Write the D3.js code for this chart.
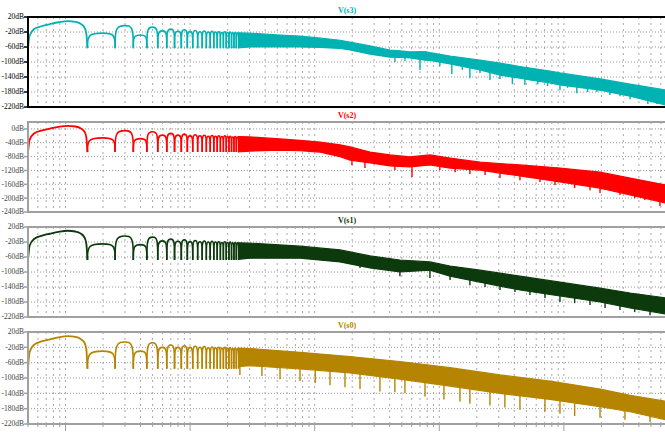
<!DOCTYPE html>
<html>
<head>
<meta charset="utf-8">
<script src="https://cdn.jsdelivr.net/npm/d3@7"></script>
<style>
  body { margin: 0; background: #fff; }
  svg text { font-family: "Liberation Serif", "DejaVu Serif", serif; }
</style>
</head>
<body>
<div id="chart"></div>
<script>
// trace names, top to bottom
const traceNames = ['V(s3)', 'V(s2)', 'V(s1)', 'V(s0)'];

// y tick labels (dB)
const ticksA = [20, -20, -60, -100, -140, -180, -220];
const ticksB = [0, -40, -80, -120, -160, -200, -240];

// side lobes of the low frequency part: nulls and lobe centres
const lobeNulls = [15, 25, 35, 45, 55, 65, 75, 85, 95, 105, 115, 125, 135, 145, 155, 165, 175, 185, 195, 205, 215, 225, 235, 245];
const lobeFreqs = [20, 30, 40, 50, 60, 70, 80, 90, 100, 110, 120, 130, 140, 150, 160, 170, 180, 190, 200, 210, 220, 230, 240];

// main lobe [freq, dB]
const s3Main = [[5, -63], [5.15, -30], [5.6, -12], [6.5, -4], [7.5, 1], [8.8, 6], [10.4, 9], [12, 7], [13.2, 2], [14.2, -8], [14.7, -25], [15, -63]];
const s2Main = [[5, -67], [5.15, -32], [5.6, -13], [6.5, -4], [7.5, 1], [8.8, 6], [10.4, 9], [12, 7], [13.2, 2], [14.2, -8], [14.7, -25], [15, -67]];
const s1Main = [[5, -68], [5.15, -30], [5.6, -12], [6.5, -3], [7.5, 2], [8.8, 7], [10.4, 10], [12, 8], [13.2, 3], [14.2, -8], [14.7, -25], [15, -68]];
const s0Main = [[5, -76], [5.15, -32], [5.6, -13], [6.5, -4], [7.5, 1], [8.8, 6], [10.4, 9], [12, 7], [13.2, 2], [14.2, -8], [14.7, -25], [15, -76]];

// side lobe peaks (dB) at lobeFreqs, and null depth
const s3Peaks = [-23, -3, -28, -7, -17, -12, -18, -14, -19, -16, -19, -17, -20, -18, -20, -19, -21, -19, -21, -20, -22, -21, -22];
const s2Peaks = [-26, -5, -28, -8, -18, -13, -18, -15, -20, -17, -20, -18, -21, -19, -21, -20, -22, -20, -22, -21, -23, -22, -23];
const s1Peaks = [-25, -4, -27, -7, -17, -12, -18, -14, -19, -16, -19, -17, -20, -18, -20, -19, -21, -19, -21, -20, -22, -21, -22];
const s0Peaks = [-30, -6, -30, -8, -20, -14, -20, -16, -20, -17, -20, -18, -21, -19, -21, -20, -22, -20, -22, -21, -23, -22, -23];
const nullDepth = [-63, -67, -68, -76];

// dense part of the spectrum: [freq, upper dB, lower dB]
const s3Band = [[245, -22, -62], [302, -23, -60], [526, -28, -60], [762, -31, -60], [1104, -36, -61],
  [1597, -42, -64], [1920, -47, -68], [2780, -57, -79], [4020, -68, -87], [4830, -70, -88], [5820, -73, -89],
  [7680, -72, -95], [8410, -75, -96], [12200, -84, -105], [21200, -95, -121], [30700, -103, -135], [44400, -112, -143],
  [53400, -116, -148], [77300, -124, -156], [93000, -129, -161], [195000, -145, -175], [340000, -159, -191], [660000, -175, -215]];
const s2Band = [[245, -22, -66], [302, -23, -64], [526, -29, -61], [762, -33, -63], [1104, -38, -67],
  [1597, -46, -80], [1920, -52, -90], [2780, -67, -98], [4020, -75, -107], [5820, -81, -110], [8410, -75, -104],
  [12200, -84, -113], [21200, -96, -119], [44400, -104, -136], [93000, -113, -153], [195000, -125, -171],
  [340000, -142, -191], [660000, -162, -214]];
const s1Band = [[245, -22, -66], [302, -23, -63], [762, -31, -63], [1597, -41, -73], [2780, -57, -89],
  [4830, -68, -100], [8410, -73, -95], [12200, -84, -111], [21200, -95, -127], [44400, -111, -148],
  [93000, -127, -164], [195000, -143, -180], [340000, -156, -196], [660000, -169, -212]];
const s0Band = [[245, -22, -70], [302, -23, -68], [762, -33, -76], [1920, -44, -87], [4830, -57, -103],
  [12200, -73, -121], [30700, -92, -140], [77300, -108, -156], [195000, -129, -175], [340000, -145, -188], [660000, -161, -209]];

// downward spikes under the band [freq, dB]
const s3Spikes = [[4400, -100], [5300, -97], [7000, -121], [10100, -111], [12600, -132], [15300, -121], [17600, -143],
  [21200, -129], [25500, -148], [30700, -145], [38600, -159], [48600, -161], [61800, -159], [74000, -164], [93000, -175],
  [107000, -169], [127000, -183], [155000, -180], [184000, -180], [234000, -188], [282000, -191], [340000, -199],
  [385000, -193], [472000, -212], [557000, -212]];
const s2Spikes = [[1990, -104], [2530, -113], [4400, -119], [6040, -139], [10100, -119], [13400, -125], [17600, -130],
  [23300, -133], [30700, -142], [44400, -148], [64300, -153], [84800, -162], [122000, -171], [162000, -177],
  [195000, -185], [282000, -191], [370000, -200], [447000, -205], [590000, -223]];
const s1Spikes = [[2310, -89], [4830, -111], [8410, -116], [12200, -121], [17600, -135], [23300, -140], [30700, -148],
  [40500, -153], [53400, -161], [70500, -169], [93000, -180], [122000, -183], [162000, -188], [214000, -196],
  [282000, -201], [370000, -207], [491000, -215]];
const s0Spikes = [[251, -92], [377, -95], [527, -103], [762, -108], [1010, -113], [1327, -119], [1750, -124], [2310, -129],
  [3340, -135], [4400, -137], [5300, -140], [7680, -148], [10900, -156], [14650, -161], [17600, -167], [25500, -172],
  [33600, -177], [44400, -183], [70500, -188], [93000, -193], [122000, -199], [195000, -204], [309000, -209], [491000, -215]];

const width = 665, height = 432;
const left = 28, right = 668;

const panels = [
  { name: traceNames[0], top: 17, bottom: 107, domain: [-220, 20], ticks: ticksA, main: s3Main, peaks: s3Peaks, band: s3Band, spikes: s3Spikes, nul: nullDepth[0], color: '#00b2b2', frame: '#000', label: '#000' },
  { name: traceNames[1], top: 122, bottom: 212, domain: [-240, 20], ticks: ticksB, main: s2Main, peaks: s2Peaks, band: s2Band, spikes: s2Spikes, nul: nullDepth[1], color: '#ff0000', frame: '#a0a0a0', label: '#444' },
  { name: traceNames[2], top: 227, bottom: 317, domain: [-220, 20], ticks: ticksA, main: s1Main, peaks: s1Peaks, band: s1Band, spikes: s1Spikes, nul: nullDepth[2], color: '#0c3a0c', frame: '#a0a0a0', label: '#444' },
  { name: traceNames[3], top: 332, bottom: 424, domain: [-220, 20], ticks: ticksA, main: s0Main, peaks: s0Peaks, band: s0Band, spikes: s0Spikes, nul: nullDepth[3], color: '#b58400', frame: '#a0a0a0', label: '#444' }
];

const svg = d3.select('#chart').append('svg')
  .attr('width', width)
  .attr('height', height);

const x = d3.scaleLog()
  .domain([5, 660000])
  .range([left, 666]);

// grid positions: every 1..9 multiple per decade
const gridFreqs = [];
[1, 10, 100, 1000, 10000, 100000].forEach(dec => {
  for (let m = 1; m <= 9; m++) {
    const f = dec * m;
    if (f >= 5 && f <= 660000) gridFreqs.push(f);
  }
});
const isDecade = f => Math.abs(Math.log10(f) - Math.round(Math.log10(f))) < 1e-9;

const drawPanel = (p, i) => {
  const y = d3.scaleLinear().domain(p.domain).range([p.bottom, p.top]);
  const g = svg.append('g');

  const clipId = 'clip' + i;
  svg.append('clipPath').attr('id', clipId)
    .append('rect')
    .attr('x', left).attr('y', p.top)
    .attr('width', right - left).attr('height', p.bottom - p.top);

  // grid
  g.selectAll('.vgrid').data(gridFreqs).enter().append('line')
    .attr('x1', d => x(d)).attr('x2', d => x(d))
    .attr('y1', p.top).attr('y2', p.bottom)
    .attr('stroke', '#a8a8a8').attr('stroke-width', 1)
    .attr('stroke-dasharray', '2,4');
  g.selectAll('.hgrid').data(p.ticks).enter().append('line')
    .attr('x1', left).attr('x2', right)
    .attr('y1', d => y(d)).attr('y2', d => y(d))
    .attr('stroke', '#999').attr('stroke-width', 1)
    .attr('stroke-dasharray', '1,2');

  const plot = g.append('g').attr('clip-path', 'url(#' + clipId + ')');

  // main lobe
  const line = d3.line().x(d => x(d[0])).y(d => y(d[1])).curve(d3.curveMonotoneX);
  plot.append('path')
    .attr('d', line(p.main))
    .attr('fill', 'none').attr('stroke', p.color).attr('stroke-width', 1.8);

  // side lobes, arch between two nulls
  const arch = d3.line().curve(d3.curveBasis);
  lobeFreqs.forEach((f, k) => {
    const n0 = x(lobeNulls[k]), n1 = x(lobeNulls[k + 1]);
    const pk = y(p.peaks[k]), bt = y(p.nul);
    plot.append('path')
      .attr('d', arch([[n0, bt], [n0, pk], [x(f), pk], [n1, pk], [n1, bt]]))
      .attr('fill', 'none').attr('stroke', p.color).attr('stroke-width', k > 8 ? 1.5 : 1.6);
  });

  // dense band
  const area = d3.area()
    .x(d => x(d[0]))
    .y0(d => y(d[2]))
    .y1(d => y(d[1]));
  plot.append('path')
    .attr('d', area(p.band))
    .attr('fill', p.color).attr('stroke', p.color).attr('stroke-width', 1.2);

  // spikes hanging under the band
  const lowerAt = f => {
    const b = p.band;
    const j = Math.max(1, Math.min(b.length - 1, d3.bisector(d => d[0]).left(b, f)));
    const t = (Math.log(f) - Math.log(b[j - 1][0])) / (Math.log(b[j][0]) - Math.log(b[j - 1][0]));
    return b[j - 1][2] + t * (b[j][2] - b[j - 1][2]);
  };
  plot.selectAll('.spike').data(p.spikes).enter().append('line')
    .attr('x1', d => x(d[0])).attr('x2', d => x(d[0]))
    .attr('y1', d => y(lowerAt(d[0])) - 2)
    .attr('y2', d => y(d[1]))
    .attr('stroke', p.color).attr('stroke-width', 1.4);

  // frame
  g.append('rect')
    .attr('x', left).attr('y', p.top)
    .attr('width', right - left).attr('height', p.bottom - p.top)
    .attr('fill', 'none').attr('stroke', p.frame).attr('stroke-width', 2);

  // y ticks + labels
  g.selectAll('.ytick').data(p.ticks).enter().append('line')
    .attr('x1', left - 4).attr('x2', left)
    .attr('y1', d => y(d)).attr('y2', d => y(d))
    .attr('stroke', p.frame).attr('stroke-width', 1.5);
  g.selectAll('.ylab').data(p.ticks).enter().append('text')
    .attr('x', left - 4).attr('y', d => y(d))
    .attr('dy', '0.33em')
    .attr('text-anchor', 'end')
    .attr('font-size', '7.5px')
    .attr('fill', p.label)
    .text(d => d + 'dB');

  // title
  g.append('text')
    .attr('x', 347).attr('y', p.top - 4)
    .attr('text-anchor', 'middle')
    .attr('font-size', '8px')
    .attr('font-weight', 'bold')
    .attr('fill', p.color)
    .text(p.name);

  // x ticks under the last pane
  if (i === panels.length - 1) {
    g.selectAll('.xtick').data(gridFreqs).enter().append('line')
      .attr('x1', d => x(d)).attr('x2', d => x(d))
      .attr('y1', p.bottom).attr('y2', d => p.bottom + (isDecade(d) ? 7 : 3))
      .attr('stroke', p.frame).attr('stroke-width', 1);
  }
};

panels.forEach(drawPanel);
</script>
</body>
</html>
